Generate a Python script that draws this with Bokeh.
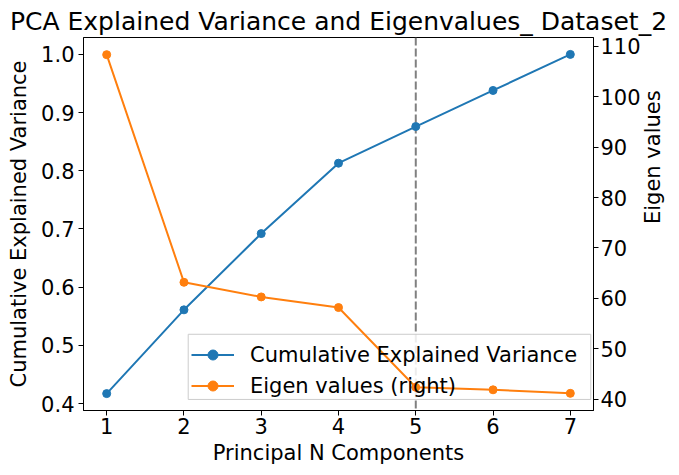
import math

from bokeh.embed import file_html
from bokeh.models import (BoxAnnotation, ColumnDataSource, FixedTicker, Legend, LegendItem,
                          LinearAxis, PrintfTickFormatter, Range1d, Span)
from bokeh.plotting import figure
from bokeh.resources import INLINE

# data
components = [1, 2, 3, 4, 5, 6, 7]
cumulative_variance = [0.417, 0.561, 0.692, 0.813, 0.876, 0.938, 1.0]
eigen_values = [108.3, 63.2, 60.3, 58.2, 42.4, 41.9, 41.2]
cutoff = 5

FONT = "DejaVu Sans"
BLUE = "#1f77b4"
ORANGE = "#ff7f0e"

src = ColumnDataSource(data={"x": components, "cum": cumulative_variance, "eig": eigen_values})

p = figure(
    width=679,
    height=475,
    title="PCA Explained Variance and Eigenvalues_ Dataset_2",
    x_range=Range1d(0.7, 7.3),
    y_range=Range1d(0.388, 1.029),
    output_backend="svg",
    toolbar_location=None,
    tools="",
    min_border_left=83,
    min_border_right=84,
    min_border_top=37,
    min_border_bottom=65,
)
p.extra_y_ranges = {"right": Range1d(37.8, 111.7)}

# title
p.title.text_font = FONT
p.title.text_font_size = "25px"
p.title.text_font_style = "normal"
p.title.align = "center"
p.title.text_color = "black"
p.title.standoff = 3

# spines
p.grid.visible = False
p.outline_line_color = "black"
p.outline_line_alpha = 1
p.outline_line_width = 1
p.background_fill_color = "white"

# cutoff marker
p.add_layout(Span(location=cutoff, dimension="height", line_color="gray",
                  line_dash="8 3", line_width=2, level="underlay"))

# legend frame, kept below the data lines (legend itself is see-through)
p.add_layout(BoxAnnotation(left=2.055, right=7.265, bottom=0.407, top=0.519,
                           fill_color="white", fill_alpha=0.85,
                           line_color="#cccccc", line_width=1, line_alpha=1,
                           level="underlay"))

# left series
l1 = p.line("x", "cum", source=src, line_color=BLUE, line_width=2)
s1 = p.scatter("x", "cum", source=src, size=8, fill_color=BLUE, line_color=BLUE)

# right series
l2 = p.line("x", "eig", source=src, line_color=ORANGE, line_width=2, y_range_name="right")
s2 = p.scatter("x", "eig", source=src, size=8, fill_color=ORANGE, line_color=ORANGE,
               y_range_name="right")

right_axis = LinearAxis(y_range_name="right", axis_label="Eigen values")
p.add_layout(right_axis, "right")

p.xaxis.ticker = FixedTicker(ticks=components)
p.xaxis.axis_label = "Principal N Components"
p.yaxis[0].ticker = FixedTicker(ticks=[0.4, 0.5, 0.6, 0.7, 0.8, 0.9, 1.0])
p.yaxis[0].formatter = PrintfTickFormatter(format="%.1f")
p.yaxis[0].axis_label = "Cumulative Explained Variance"
right_axis.ticker = FixedTicker(ticks=[40, 50, 60, 70, 80, 90, 100, 110])

for ax in p.axis:
    ax.axis_line_color = "black"
    ax.major_tick_line_color = "black"
    ax.major_tick_out = 5
    ax.major_tick_in = 0
    ax.minor_tick_line_color = None
    ax.major_label_text_font = FONT
    ax.major_label_text_font_size = "21px"
    ax.major_label_text_color = "black"
    ax.major_label_standoff = 2
    ax.axis_label_text_font = FONT
    ax.axis_label_text_font_size = "21px"
    ax.axis_label_text_font_style = "normal"
    ax.axis_label_text_color = "black"
    ax.axis_label_standoff = 7
p.yaxis[0].major_label_standoff = 4
p.xaxis.axis_label_standoff = 4
right_axis.axis_label_standoff = 9
right_axis.axis_label_orientation = math.pi / 2

legend = Legend(
    items=[
        LegendItem(label="Cumulative Explained Variance", renderers=[l1, s1]),
        LegendItem(label="Eigen values (right)", renderers=[l2, s2]),
    ],
    location=(108, 12),
    label_text_font=FONT,
    label_text_font_size="21px",
    label_text_color="black",
    glyph_width=43,
    glyph_height=25,
    label_height=25,
    label_width=328,
    label_standoff=16,
    spacing=6,
    padding=5,
    margin=0,
    border_line_color=None,
    background_fill_alpha=0,
)
p.add_layout(legend)

open("out.html", "w").write(file_html(p, INLINE))
